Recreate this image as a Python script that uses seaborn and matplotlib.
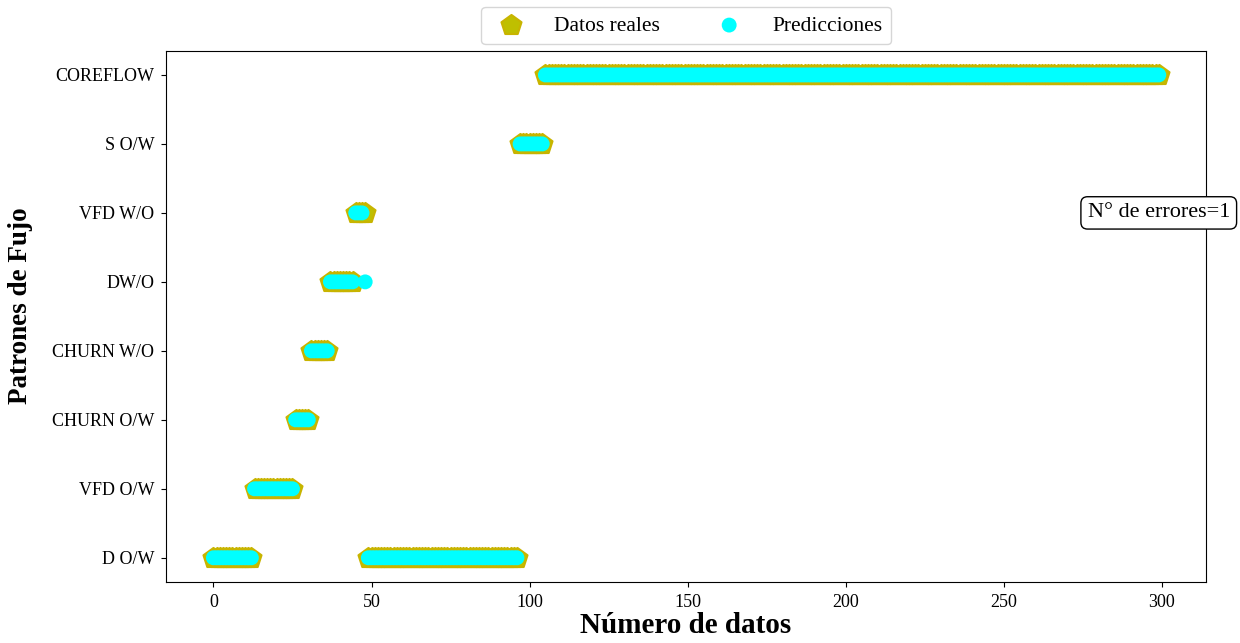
import numpy as np
import pandas as pd
import matplotlib
matplotlib.use("Agg")
import matplotlib.pyplot as plt
import seaborn as sns

# flow patterns, bottom to top on the y axis
categorias = ["D O/W", "VFD O/W", "CHURN O/W", "CHURN W/O", "DW/O", "VFD W/O", "S O/W", "COREFLOW"]

# real data as runs of consecutive samples (pattern, number of samples)
tramo_patron = ["D O/W", "VFD O/W", "CHURN O/W", "CHURN W/O", "DW/O", "VFD W/O", "D O/W", "S O/W", "COREFLOW"]
tramo_largo = [13, 13, 5, 6, 8, 4, 48, 8, 195]

# the single wrong prediction
indice_error = [48]
patron_error = ["DW/O"]


def plot_all():
    reales = np.repeat(tramo_patron, tramo_largo)
    predic = reales.copy()
    predic[indice_error] = patron_error
    codigo = {c: i for i, c in enumerate(categorias)}

    df = pd.DataFrame({
        "n": np.arange(len(reales)),
        "real": [codigo[c] for c in reales],
        "pred": [codigo[c] for c in predic],
    })

    plt.rcParams["font.family"] = ["Liberation Serif", "DejaVu Serif"]
    fig, ax = plt.subplots(figsize=(12.4, 6.43), dpi=100)
    fig.subplots_adjust(left=0.134, right=0.9726, bottom=0.095, top=0.921)

    sns.scatterplot(data=df, x="n", y="real", marker="p", s=230, color="y",
                    edgecolor="#c8b400", linewidth=1.5, label="Datos reales", ax=ax, zorder=2)
    sns.scatterplot(data=df, x="n", y="pred", marker="o", s=115, color="cyan",
                    edgecolor="none", linewidth=0, label="Predicciones", ax=ax, zorder=3)

    ax.set_yticks(range(len(categorias)))
    ax.set_yticklabels(categorias)
    ax.set_xticks([0, 50, 100, 150, 200, 250, 300])
    ax.tick_params(labelsize=13, pad=5)
    ax.set_xlabel("Número de datos", fontsize=21, fontweight="bold", labelpad=1)
    ax.set_ylabel("Patrones de Fujo", fontsize=19.5, fontweight="bold")
    ax.yaxis.set_label_coords(-0.128, 0.52)

    ax.text(299, 5, "N° de errores=1", fontsize=16, ha="center", va="center",
            bbox=dict(boxstyle="round", fc="white", ec="black"), zorder=5, clip_on=False)

    ax.legend(loc="lower center", bbox_to_anchor=(0.5, 1.0), ncol=2, fontsize=15.5,
              handletextpad=1.0, columnspacing=2.2, borderaxespad=0.3)

    plt.savefig("out.png", dpi=100)


if __name__ == "__main__":
    plot_all()
